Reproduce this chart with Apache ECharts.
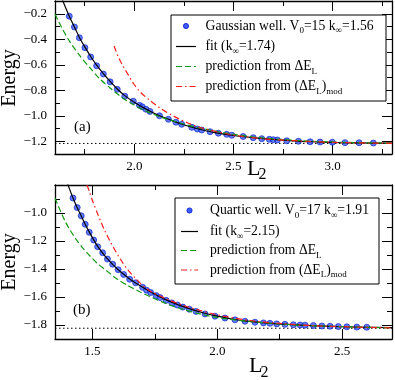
<!DOCTYPE html>
<html><head><meta charset="utf-8">
<script src="https://cdn.jsdelivr.net/npm/echarts@6/dist/echarts.min.js"></script>
<style>html,body{margin:0;padding:0;background:#fff}#c{width:395px;height:380px}</style>
</head><body><div id="c"></div>
<script>
const FONT = 'Liberation Serif';

// ---------- Panel (a): Gaussian well ----------
const xRangeA = [1.6, 3.3];
const yRangeA = [-1.3, -0.1];
const xMajorA = [2.0, 2.5, 3.0];
const xMinorA = [1.75, 2.25, 2.75, 3.25];
const yMajorA = [-1.2, -1.0, -0.8, -0.6, -0.4, -0.2];
const yMinorA = [-1.1, -0.9, -0.7, -0.5, -0.3];
const pointsA = [[1.672,-0.219],[1.698,-0.304],[1.723,-0.388],[1.751,-0.466],[1.780,-0.539],[1.810,-0.608],[1.844,-0.673],[1.878,-0.734],[1.914,-0.793],[1.952,-0.847],[1.995,-0.886],[2.026,-0.918],[2.040,-0.930],[2.059,-0.949],[2.079,-0.966],[2.127,-1.000],[2.172,-1.028],[2.210,-1.051],[2.239,-1.067],[2.290,-1.091],[2.318,-1.104],[2.340,-1.112],[2.382,-1.125],[2.424,-1.137],[2.466,-1.146],[2.492,-1.153],[2.549,-1.163],[2.600,-1.172],[2.643,-1.180],[2.681,-1.185],[2.701,-1.188],[2.722,-1.190],[2.769,-1.196],[2.828,-1.200],[2.887,-1.204],[2.937,-1.206],[2.999,-1.208],[3.063,-1.211],[3.134,-1.212],[3.206,-1.214]];
const fitA = [[1.625,-0.044],[1.650,-0.139],[1.672,-0.219],[1.698,-0.304],[1.723,-0.386],[1.751,-0.462],[1.780,-0.535],[1.810,-0.603],[1.844,-0.670],[1.878,-0.731],[1.914,-0.790],[1.952,-0.842],[2.0,-0.894],[2.05,-0.940],[2.1,-0.980],[2.15,-1.014],[2.2,-1.044],[2.25,-1.071],[2.3,-1.094],[2.35,-1.114],[2.4,-1.131],[2.5,-1.155],[2.6,-1.172],[2.7,-1.186],[2.8,-1.197],[2.9,-1.204],[3.0,-1.209],[3.1,-1.212],[3.2,-1.214],[3.3,-1.215]];
const predA = [[1.600,-0.202],[1.635,-0.312],[1.676,-0.422],[1.726,-0.531],[1.777,-0.625],[1.827,-0.712],[1.878,-0.782],[1.928,-0.845],[1.994,-0.912],[2.054,-0.960],[2.130,-1.008],[2.231,-1.057],[2.332,-1.096],[2.483,-1.141],[2.634,-1.172],[2.836,-1.195],[3.038,-1.208],[3.3,-1.215]];
const predModA = [[1.898,-0.453],[1.919,-0.537],[1.945,-0.615],[1.970,-0.680],[1.995,-0.745],[2.029,-0.812],[2.079,-0.880],[2.130,-0.939],[2.197,-1.002],[2.265,-1.053],[2.332,-1.092],[2.483,-1.147],[2.634,-1.178],[2.836,-1.198],[3.038,-1.210],[3.3,-1.216]];
const asymA = -1.217;

// ---------- Panel (b): Quartic well ----------
const xRangeB = [1.35, 2.7];
const yRangeB = [-1.9, -0.8];
const xMajorB = [1.5, 2.0, 2.5];
const xMinorB = [1.75, 2.25];
const yMajorB = [-1.8, -1.6, -1.4, -1.2, -1.0];
const yMinorB = [-1.7, -1.5, -1.3, -1.1, -0.9];
const pointsB = [[1.422,-0.893],[1.439,-0.961],[1.455,-1.020],[1.471,-1.081],[1.487,-1.138],[1.505,-1.193],[1.521,-1.241],[1.541,-1.284],[1.560,-1.329],[1.581,-1.366],[1.603,-1.405],[1.625,-1.439],[1.649,-1.473],[1.673,-1.499],[1.701,-1.531],[1.717,-1.552],[1.733,-1.568],[1.755,-1.590],[1.771,-1.604],[1.795,-1.624],[1.818,-1.642],[1.840,-1.657],[1.862,-1.672],[1.888,-1.687],[1.915,-1.703],[1.951,-1.721],[1.991,-1.737],[2.031,-1.750],[2.071,-1.763],[2.111,-1.773],[2.151,-1.780],[2.185,-1.785],[2.211,-1.788],[2.238,-1.792],[2.271,-1.795],[2.305,-1.798],[2.332,-1.800],[2.352,-1.801],[2.385,-1.804],[2.419,-1.807],[2.452,-1.809],[2.485,-1.811],[2.519,-1.813],[2.559,-1.815],[2.599,-1.816]];
const fitB = [[1.390,-0.738],[1.405,-0.813],[1.422,-0.893],[1.439,-0.962],[1.455,-1.021],[1.471,-1.080],[1.487,-1.135],[1.505,-1.192],[1.521,-1.238],[1.541,-1.287],[1.560,-1.328],[1.581,-1.367],[1.603,-1.405],[1.625,-1.438],[1.649,-1.471],[1.673,-1.500],[1.701,-1.530],[1.75,-1.580],[1.80,-1.624],[1.85,-1.660],[1.90,-1.690],[1.95,-1.716],[2.0,-1.737],[2.05,-1.754],[2.1,-1.769],[2.2,-1.787],[2.3,-1.798],[2.4,-1.806],[2.5,-1.812],[2.6,-1.816],[2.7,-1.819]];
const predB = [[1.350,-0.893],[1.370,-0.979],[1.390,-1.057],[1.410,-1.121],[1.434,-1.186],[1.458,-1.243],[1.490,-1.307],[1.522,-1.364],[1.558,-1.414],[1.598,-1.471],[1.638,-1.514],[1.691,-1.564],[1.743,-1.607],[1.799,-1.650],[1.851,-1.682],[1.931,-1.721],[2.011,-1.750],[2.131,-1.775],[2.251,-1.793],[2.412,-1.807],[2.700,-1.821]];
const predModB = [[1.478,-0.800],[1.490,-0.857],[1.502,-0.921],[1.518,-0.993],[1.534,-1.064],[1.550,-1.129],[1.570,-1.200],[1.590,-1.264],[1.614,-1.336],[1.642,-1.407],[1.671,-1.464],[1.699,-1.514],[1.731,-1.557],[1.771,-1.593],[1.811,-1.625],[1.871,-1.664],[1.931,-1.696],[2.011,-1.732],[2.131,-1.768],[2.251,-1.789],[2.412,-1.807],[2.700,-1.821]];
const asymB = -1.823;

const legendA = ['Gaussian well. V{s|0}=15 k{s|\u221E}=1.56', 'fit (k{s|\u221E}=1.74)', 'prediction from \u0394E{s|L}', 'prediction from (\u0394E{s|L}){s|mod}'];
const legendB = ['Quartic well. V{s|0}=17 k{s|\u221E}=1.91', 'fit (k{s|\u221E}=2.15)', 'prediction from \u0394E{s|L}', 'prediction from (\u0394E{s|L}){s|mod}'];

const fmt = v => v.toFixed(1).replace('-', '\u2212');

function axis(kind, gridIndex, position, range, ticks, len, labels, line) {
  return {
    type: 'value', gridIndex, position, min: range[0], max: range[1],
    axisLine: { show: line, onZero: false, lineStyle: { color: '#000', width: 1.3 } },
    axisTick: { show: true, inside: true, length: len, customValues: ticks, lineStyle: { color: '#000', width: 1 } },
    axisLabel: labels ? { show: true, customValues: ticks, formatter: fmt, fontFamily: FONT, fontSize: 13, color: '#000', margin: kind === 'x' ? 6 : 8 } : { show: false },
    splitLine: { show: false }, minorTick: { show: false }, minorSplitLine: { show: false }
  };
}
function xAxes(g, r, maj, min) {
  return [axis('x', g, 'bottom', r, maj, 10, true, true), axis('x', g, 'bottom', r, min, 5, false, false),
          axis('x', g, 'top', r, maj, 10, false, true), axis('x', g, 'top', r, min, 5, false, false)];
}
function yAxes(g, r, maj, min) {
  return [axis('y', g, 'left', r, maj, 10, true, true), axis('y', g, 'left', r, min, 5, false, false),
          axis('y', g, 'right', r, maj, 10, false, true), axis('y', g, 'right', r, min, 5, false, false)];
}

function panelSeries(ai, pts, fit, pred, predMod, asym, xr) {
  return [
    { type: 'scatter', xAxisIndex: ai, yAxisIndex: ai, data: pts, symbol: 'circle', symbolSize: 6, z: 2,
      itemStyle: { color: '#3d5cff', borderColor: '#0018c8', borderWidth: 0.8 } },
    { type: 'line', xAxisIndex: ai, yAxisIndex: ai, data: fit, showSymbol: false, smooth: 0.3, z: 3,
      lineStyle: { color: '#000', width: 1.2 } },
    { type: 'line', xAxisIndex: ai, yAxisIndex: ai, data: pred, showSymbol: false, smooth: 0.3, z: 4,
      lineStyle: { color: '#119911', width: 1.2, type: [6, 3] } },
    { type: 'line', xAxisIndex: ai, yAxisIndex: ai, data: predMod, showSymbol: false, smooth: 0.3, z: 5,
      lineStyle: { color: '#ff1a1a', width: 1.2, type: [6, 3, 1.5, 3] } },
    { type: 'line', xAxisIndex: ai, yAxisIndex: ai, data: [[xr[0], asym], [xr[1], asym]], showSymbol: false, z: 1,
      lineStyle: { color: '#000', width: 1, type: [1.5, 2.5] } }
  ];
}

function legendGraphic(box, textX, sampleX0, sampleX1, rows, lines) {
  const els = [{ type: 'rect', shape: { x: box[0], y: box[1], width: box[2] - box[0], height: box[3] - box[1] },
    style: { fill: '#fff', stroke: '#000', lineWidth: 1 }, z: 100 }];
  els.push({ type: 'circle', shape: { cx: (sampleX0 + sampleX1) / 2, cy: rows[0], r: 2.6 },
    style: { fill: '#3d5cff', stroke: '#0018c8', lineWidth: 0.8 }, z: 101 });
  const styles = [{ stroke: '#000', lineWidth: 1.2 }, { stroke: '#119911', lineWidth: 1.2, lineDash: [6, 3] }, { stroke: '#ff1a1a', lineWidth: 1.2, lineDash: [6, 3, 1.5, 3] }];
  for (let i = 0; i < 3; i++) {
    els.push({ type: 'line', shape: { x1: sampleX0, y1: rows[i + 1], x2: sampleX1, y2: rows[i + 1] }, style: styles[i], z: 101 });
  }
  for (let i = 0; i < 4; i++) {
    els.push({ type: 'text', x: textX, y: rows[i], z: 101, style: {
      text: lines[i], fontFamily: FONT, fontSize: 13.7, fill: '#000', verticalAlign: 'middle', align: 'left',
      rich: { s: { fontFamily: FONT, fontSize: 9, fill: '#000', lineHeight: 10, padding: [10, 0, 0, 0] } } } });
  }
  return els;
}

const chart = echarts.init(document.getElementById('c'), null, { renderer: 'canvas' });
chart.setOption({
  animation: false,
  backgroundColor: '#fff',
  grid: [{ left: 55, top: 1, width: 337, height: 153 }, { left: 55, top: 185, width: 337, height: 154 }],
  xAxis: [...xAxes(0, xRangeA, xMajorA, xMinorA), ...xAxes(1, xRangeB, xMajorB, xMinorB)],
  yAxis: [...yAxes(0, yRangeA, yMajorA, yMinorA), ...yAxes(1, yRangeB, yMajorB, yMinorB)],
  series: [...panelSeries(0, pointsA, fitA, predA, predModA, asymA, xRangeA),
           ...panelSeries(4, pointsB, fitB, predB, predModB, asymB, xRangeB)],
  graphic: [
    { type: 'text', x: 10, y: 78, rotation: Math.PI / 2, style: { text: 'Energy', fontFamily: FONT, fontSize: 20, fill: '#000', align: 'center', verticalAlign: 'middle' } },
    { type: 'text', x: 10, y: 262, rotation: Math.PI / 2, style: { text: 'Energy', fontFamily: FONT, fontSize: 20, fill: '#000', align: 'center', verticalAlign: 'middle' } },
    { type: 'text', x: 247, y: 169, style: { text: 'L', fontFamily: FONT, fontSize: 22, fill: '#000', align: 'left', verticalAlign: 'middle' } },
    { type: 'text', x: 258.5, y: 175, style: { text: '2', fontFamily: FONT, fontSize: 16, fill: '#000', align: 'left', verticalAlign: 'middle' } },
    { type: 'text', x: 249, y: 366, style: { text: 'L', fontFamily: FONT, fontSize: 22, fill: '#000', align: 'left', verticalAlign: 'middle' } },
    { type: 'text', x: 260.5, y: 372.5, style: { text: '2', fontFamily: FONT, fontSize: 16, fill: '#000', align: 'left', verticalAlign: 'middle' } },
    { type: 'text', x: 74, y: 127, style: { text: '(a)', fontFamily: FONT, fontSize: 15, fill: '#000', align: 'left', verticalAlign: 'middle' } },
    { type: 'text', x: 73, y: 310, style: { text: '(b)', fontFamily: FONT, fontSize: 15, fill: '#000', align: 'left', verticalAlign: 'middle' } },
    ...legendGraphic([171, 15, 386, 101], 205.5, 176, 196, [26, 46.5, 66.5, 86.5], legendA),
    ...legendGraphic([175, 198, 379, 284], 210, 181, 198, [210.5, 231.5, 250.5, 270], legendB)
  ]
});
</script></body></html>
